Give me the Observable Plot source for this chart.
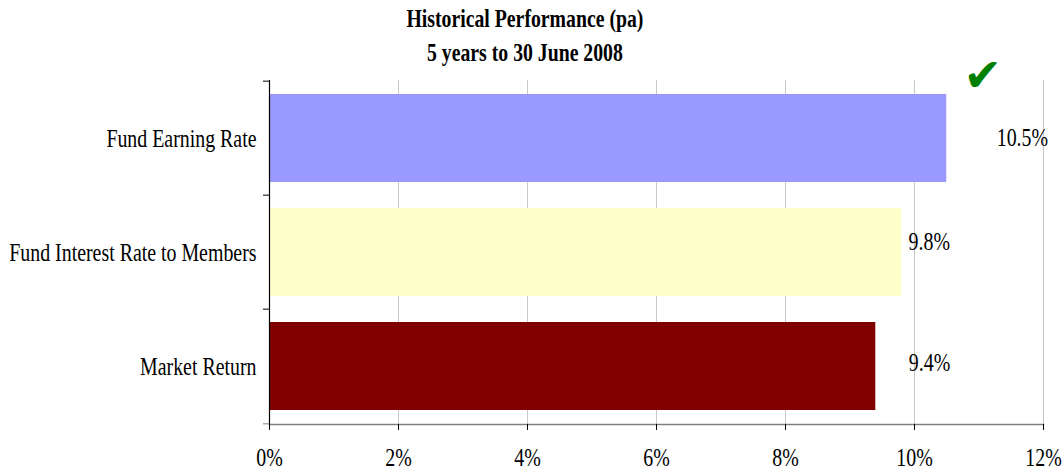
<!DOCTYPE html>
<html><head><meta charset="utf-8">
<script src="https://cdn.jsdelivr.net/npm/d3@7"></script>
<script src="https://cdn.jsdelivr.net/npm/@observablehq/plot@0.6"></script>
<style>
html,body{margin:0;padding:0;background:#fff;}
#title{width:1062px;height:71px;font-family:"Liberation Serif","Times New Roman",serif;font-weight:bold;font-size:25px;text-align:center;padding-top:2px;padding-right:12px;box-sizing:border-box;color:#000;position:relative;z-index:1;}
#title div{line-height:34px;}
#title span{display:inline-block;transform:scaleX(0.79);}
#chart svg{overflow:visible;}
</style></head><body>
<div id="title"><div><span>Historical Performance (pa)</span></div><div><span>5 years to 30 June 2008</span></div></div>
<div id="chart"></div>
<script>
const categories = ["Fund Earning Rate", "Fund Interest Rate to Members", "Market Return"];
const values = [10.5, 9.8, 9.4];
const colors = ["#9999ff", "#ffffcc", "#800000"];
const xTicks = [0, 2, 4, 6, 8, 10, 12];
const checked = ["Fund Earning Rate"];

const data = categories.map((c, i) => ({category: c, value: values[i], color: colors[i]}));
const H = 401, MT = 9, MB = 48;
const step = (H - MT - MB) / categories.length;
const fmt = d => d.value.toFixed(1) + "%";

const chart = Plot.plot({
  width: 1062, height: H,
  marginTop: MT, marginBottom: MB, marginLeft: 269, marginRight: 19,
  style: {fontFamily: "'Liberation Serif','Times New Roman',serif", fontSize: "26px", color: "#000", background: "transparent"},
  x: {domain: [0, 12], label: null},
  y: {domain: categories, paddingInner: 0.23, paddingOuter: 0.12, label: null},
  color: {type: "identity"},
  marks: [
    Plot.ruleX(xTicks.filter(d => d > 0), {stroke: "#c8c8c8", strokeWidth: 1}),
    Plot.barX(data, {x: "value", y: "category", fill: d => d.color}),
    Plot.frame({anchor: "bottom", stroke: "#7f7f7f", strokeWidth: 1.5}),
    Plot.ruleX([0], {stroke: "#000", strokeWidth: 1.2}),
    Plot.axisX(xTicks, {tickSize: 6, tickPadding: 17, tickFormat: d => d + "%", stroke: "#000"}),
    Plot.axisY({tickSize: 0, tickPadding: 13}),
    Plot.axisY(categories, {tickSize: 6, dy: -step / 2, tickFormat: () => ""}),
    Plot.axisY([categories[categories.length - 1]], {tickSize: 6, dy: step / 2, tickFormat: () => "", stroke: "#7f7f7f"}),
    Plot.text(data.filter(d => d.category === categories[0]), {x: "value", y: "category", text: fmt, textAnchor: "start", dx: 50, dy: -1}),
    Plot.text(data.filter(d => d.category === categories[1]), {x: "value", y: "category", text: fmt, textAnchor: "start", dx: 7, dy: -11}),
    Plot.text(data.filter(d => d.category === categories[2]), {x: "value", y: "category", text: fmt, textAnchor: "start", dx: 33, dy: -4}),
    Plot.text(data.filter(d => checked.includes(d.category)), {x: "value", y: "category", text: () => "\u2714", fill: "#008000", fontSize: 46, fontFamily: "DejaVu Sans", textAnchor: "middle", dx: 36, dy: -62})
  ]
});
document.getElementById("chart").appendChild(chart);

chart.querySelectorAll("text").forEach(t => {
  if (t.textContent === "\u2714") return;
  const x = parseFloat(t.getAttribute("x")) || 0;
  const y = parseFloat(t.getAttribute("y")) || 0;
  const ex = t.getAttribute("transform") || "";
  t.setAttribute("transform", `${ex} translate(${x},${y}) scale(0.765,1) translate(${-x},${-y})`);
});
</script>
</body></html>
